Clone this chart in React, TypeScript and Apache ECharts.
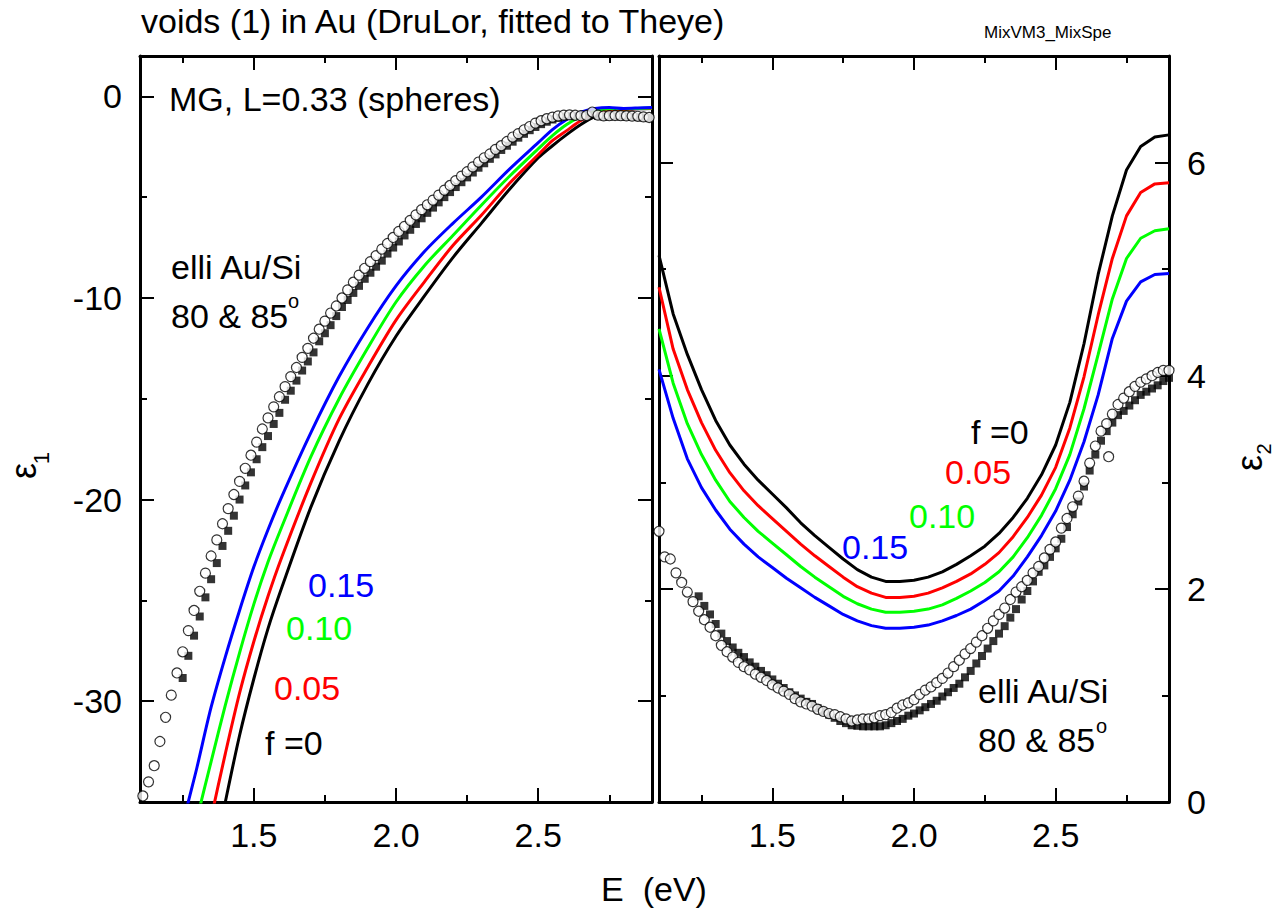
import React, { useEffect, useRef } from "react";
import * as echarts from "echarts";

const FONT = '"Liberation Sans", Arial, Helvetica, sans-serif';
const BLUE = "#0000ff";
const GREEN = "#00ff00";
const RED = "#ff0000";
const BLACK = "#000000";

// photon-energy sampling helper (eV)
const range = (start: number, step: number, n: number) =>
  Array.from({ length: n }, (_, i) => Math.round((start + i * step) * 1000) / 1000);

// ---------- ε1 panel: Maxwell-Garnett curves for void fraction f ----------
const eps1LineE = [1.2, 1.25, 1.3, 1.35, 1.4, 1.45, 1.5, 1.55, 1.6, 1.7, 1.8, 1.9, 2.0, 2.1, 2.2, 2.3, 2.4, 2.5, 2.55, 2.6, 2.65, 2.7, 2.75, 2.8, 2.85, 2.9];
const eps1F015 = [-40.5, -36.2, -33.3, -30.3, -27.8, -25.5, -23.35, -21.5, -19.8, -16.7, -13.9, -11.5, -9.4, -7.7, -6.3, -5.0, -3.6, -2.3, -1.65, -1.15, -0.78, -0.6, -0.55, -0.6, -0.58, -0.55];
const eps1F010 = [null, -39.5, -35.9, -33.0, -30.2, -27.6, -25.2, -23.1, -21.3, -17.9, -15.0, -12.5, -10.2, -8.4, -6.9, -5.4, -3.95, -2.6, -1.95, -1.4, -1.0, -0.72, -0.62, -0.62, -0.6, -0.58];
const eps1F005 = [null, null, -39.2, -35.8, -32.6, -29.6, -27.05, -24.8, -22.8, -19.2, -16.0, -13.45, -11.1, -9.2, -7.4, -5.9, -4.3, -2.9, -2.2, -1.7, -1.2, -0.85, -0.68, -0.64, -0.61, -0.6];
const eps1F000 = [null, null, -42.2, -38.5, -35.0, -31.7, -28.9, -26.4, -24.3, -20.4, -17.1, -14.3, -11.9, -9.9, -8.0, -6.3, -4.6, -3.05, -2.45, -1.9, -1.4, -1.0, -0.75, -0.65, -0.62, -0.6];

// ---------- ε1 panel: ellipsometry Au/Si, 80° (circles) and 85° (squares) ----------
const eps1CircleE = range(1.11, 0.02, 90);
const eps1Circles = [
  -34.7, -34.0, -33.2, -32.0, -30.8, -29.7, -28.6, -27.55, -26.5, -25.5,
  -24.55, -23.65, -22.8, -22.0, -21.2, -20.45, -19.75, -19.1, -18.45, -17.8,
  -17.15, -16.5, -15.95, -15.4, -14.9, -14.4, -13.9, -13.45, -12.95, -12.5,
  -12.0, -11.55, -11.15, -10.75, -10.4, -10.0, -9.6, -9.22, -8.87, -8.53,
  -8.2, -7.9, -7.58, -7.3, -7.0, -6.7, -6.45, -6.15, -5.88, -5.62,
  -5.38, -5.15, -4.9, -4.65, -4.42, -4.18, -3.96, -3.74, -3.5, -3.26,
  -3.05, -2.86, -2.63, -2.45, -2.24, -2.02, -1.85, -1.66, -1.5, -1.33,
  -1.21, -1.11, -1.03, -0.97, -0.93, -0.92, -0.94, -0.96, -0.95, -0.78,
  -0.93, -0.97, -0.96, -0.95, -0.96, -0.97, -0.98, -0.99, -1.02, -1.05,
];
const eps1SquareE = range(1.25, 0.02, 83);
const eps1Squares = [
  -28.85, -27.75, -26.75, -25.8, -24.85, -23.95, -23.15, -22.3, -21.55, -20.8,
  -20.0, -19.3, -18.65, -18.0, -17.4, -16.85, -16.25, -15.7, -15.05, -14.6,
  -14.1, -13.6, -13.15, -12.7, -12.15, -11.75, -11.35, -10.9, -10.45, -10.1,
  -9.75, -9.4, -9.05, -8.75, -8.45, -8.15, -7.8, -7.5, -7.2, -6.9,
  -6.62, -6.33, -6.05, -5.78, -5.52, -5.26, -5.0, -4.75, -4.5, -4.26,
  -4.02, -3.78, -3.54, -3.32, -3.1, -2.88, -2.66, -2.45, -2.25, -2.05,
  -1.86, -1.68, -1.52, -1.38, -1.26, -1.15, -1.07, -1.01, -0.97, -0.96,
  -0.97, -0.97, -0.9, -0.97, -1.0, -1.0, -0.99, -1.0, -1.0, -1.01,
  -1.02, -1.05, -1.08,
];

// ---------- ε2 panel: Maxwell-Garnett curves ----------
const eps2LineE = range(1.1, 0.05, 37);
const eps2F000 = [5.13, 4.58, 4.2, 3.87, 3.58, 3.35, 3.17, 3.02, 2.89, 2.76, 2.62, 2.5, 2.39, 2.28, 2.18, 2.11, 2.07, 2.07, 2.08, 2.11, 2.16, 2.23, 2.31, 2.4, 2.52, 2.67, 2.85, 3.07, 3.35, 3.75, 4.3, 4.95, 5.5, 5.93, 6.15, 6.24, 6.26];
const eps2F005 = [4.83, 4.25, 3.87, 3.56, 3.3, 3.09, 2.92, 2.78, 2.66, 2.54, 2.42, 2.31, 2.21, 2.11, 2.02, 1.96, 1.92, 1.92, 1.93, 1.96, 2.01, 2.07, 2.14, 2.23, 2.34, 2.49, 2.67, 2.88, 3.14, 3.51, 3.99, 4.57, 5.1, 5.5, 5.72, 5.8, 5.81];
const eps2F010 = [4.44, 3.93, 3.55, 3.26, 3.02, 2.82, 2.67, 2.54, 2.43, 2.32, 2.21, 2.11, 2.02, 1.93, 1.86, 1.81, 1.78, 1.78, 1.79, 1.81, 1.85, 1.91, 1.98, 2.06, 2.16, 2.3, 2.48, 2.69, 2.94, 3.26, 3.69, 4.2, 4.72, 5.1, 5.29, 5.36, 5.38];
const eps2F015 = [4.06, 3.6, 3.22, 2.95, 2.74, 2.56, 2.42, 2.3, 2.2, 2.1, 2.01, 1.92, 1.84, 1.76, 1.7, 1.655, 1.63, 1.63, 1.64, 1.66, 1.7, 1.75, 1.81, 1.89, 1.98, 2.12, 2.3, 2.5, 2.73, 3.02, 3.38, 3.82, 4.35, 4.7, 4.88, 4.95, 4.96];

// ---------- ε2 panel: ellipsometry ----------
const eps2CircleE = range(1.1, 0.02, 91);
const eps2Circles = [
  2.54, 2.3, 2.28, 2.15, 2.06, 1.97, 1.88, 1.79, 1.71, 1.64,
  1.56, 1.47, 1.41, 1.36, 1.31, 1.27, 1.24, 1.2, 1.17, 1.14,
  1.1, 1.07, 1.04, 1.01, 0.97, 0.94, 0.92, 0.9, 0.87, 0.85,
  0.83, 0.82, 0.8, 0.78, 0.76, 0.77, 0.78, 0.78, 0.79, 0.81,
  0.82, 0.84, 0.88, 0.91, 0.93, 0.96, 1.01, 1.05, 1.08, 1.12,
  1.16, 1.21, 1.27, 1.33, 1.39, 1.44, 1.5, 1.56, 1.63, 1.7,
  1.76, 1.82, 1.9, 1.97, 2.02, 2.08, 2.15, 2.21, 2.29, 2.37,
  2.44, 2.57, 2.66, 2.77, 2.87, 3.01, 3.18, 3.34, 3.48, 3.55,
  3.64, 3.73, 3.79, 3.85, 3.9, 3.94, 3.97, 4.0, 4.03, 4.05,
  4.05,
];
const eps2CircleExtraE = [2.687];
const eps2CircleExtra = [3.24];
const eps2SquareE = range(1.24, 0.02, 84);
const eps2Squares = [
  1.93, 1.84, 1.76, 1.67, 1.58, 1.51, 1.45, 1.4, 1.36, 1.31,
  1.27, 1.23, 1.19, 1.15, 1.11, 1.07, 1.03, 1.0, 0.97, 0.94,
  0.92, 0.88, 0.85, 0.82, 0.79, 0.76, 0.74, 0.72, 0.715, 0.71,
  0.71, 0.71, 0.71, 0.72, 0.74, 0.76, 0.78, 0.81, 0.83, 0.86,
  0.89, 0.92, 0.95, 0.99, 1.03, 1.07, 1.11, 1.17, 1.23, 1.3,
  1.37, 1.44, 1.51, 1.58, 1.65, 1.73, 1.81, 1.9, 1.98, 2.07,
  2.16, 2.22, 2.3, 2.38, 2.47, 2.58, 2.7, 2.82, 2.96, 3.11,
  3.26, 3.39, 3.48, 3.56, 3.63, 3.67, 3.72, 3.77, 3.82, 3.85,
  3.88, 3.91, 3.95, 3.98,
];

// ---------- axis ticks ----------
const E_MIN = 1.1;
const E_MAX = 2.9;
const eMajor = [1.5, 2.0, 2.5];
const eMinor = [1.25, 1.75, 2.25, 2.75];
const eps1Min = -35;
const eps1Max = 2;
const eps1Major = [-30, -20, -10, 0];
const eps1Minor = [-25, -15, -5];
const eps2Min = 0;
const eps2Max = 7;
const eps2Major = [0, 2, 4, 6];
const eps2Minor = [1, 3, 5];

const pairs = (xs: number[], ys: (number | null)[]) =>
  xs.map((x, i) => [x, ys[i]]).filter((p) => p[1] !== null);

const LABEL_SIZE = 34;

function axis(
  gridIndex: number,
  position: string,
  min: number,
  max: number,
  ticks: number[],
  tickLen: number,
  showLine: boolean,
  labels: boolean,
  fmt?: (v: number) => string,
  margin = 18
) {
  return {
    type: "value",
    gridIndex,
    position,
    min,
    max,
    splitLine: { show: false },
    axisLine: { show: showLine, onZero: false, lineStyle: { color: BLACK, width: 3 } },
    axisTick: {
      show: true,
      inside: true,
      length: tickLen,
      customValues: ticks,
      lineStyle: { color: BLACK, width: 2 },
    },
    axisLabel: labels
      ? {
          show: true,
          customValues: ticks,
          formatter: fmt,
          margin,
          color: BLACK,
          fontFamily: FONT,
          fontSize: LABEL_SIZE,
        }
      : { show: false },
  };
}

const fmtE = (v: number) => v.toFixed(1);
const fmtInt = (v: number) => String(Math.round(v));

const panelLeft = { left: 140, top: 56, width: 512, height: 746 };
const panelRight = { left: 659, top: 56, width: 510, height: 746 };

function text(x: number, y: number, s: string, color: string, size = 34, align = "left") {
  return {
    type: "text",
    x,
    y,
    z: 20,
    style: {
      text: s,
      fill: color,
      fontSize: size,
      fontFamily: FONT,
      textAlign: align,
      textVerticalAlign: "middle",
    },
  };
}

function rotText(x: number, y: number, s: string, size: number) {
  return {
    type: "text",
    x,
    y,
    rotation: Math.PI / 2,
    z: 20,
    style: {
      text: s,
      fill: BLACK,
      fontSize: size,
      fontFamily: FONT,
      textAlign: "center",
      textVerticalAlign: "middle",
    },
  };
}

function lineSeries(
  x: number,
  y: number,
  xs: number[],
  ys: (number | null)[],
  color: string,
  smooth: number | boolean = false
) {
  return {
    type: "line",
    xAxisIndex: x,
    yAxisIndex: y,
    data: pairs(xs, ys),
    symbol: "none",
    smooth,
    clip: true,
    z: 2,
    lineStyle: { color, width: 3 },
    silent: true,
  };
}

function circleSeries(x: number, y: number, xs: number[], ys: number[]) {
  return {
    type: "scatter",
    xAxisIndex: x,
    yAxisIndex: y,
    data: pairs(xs, ys),
    symbol: "circle",
    symbolSize: 10,
    clip: false,
    z: 4,
    itemStyle: { color: "#ffffff", borderColor: BLACK, borderWidth: 1.2 },
    silent: true,
  };
}

function squareSeries(x: number, y: number, xs: number[], ys: number[]) {
  return {
    type: "scatter",
    xAxisIndex: x,
    yAxisIndex: y,
    data: pairs(xs, ys),
    symbol: "rect",
    symbolSize: 8,
    clip: false,
    z: 3,
    itemStyle: { color: BLACK },
    silent: true,
  };
}

const option = {
  animation: false,
  backgroundColor: "#ffffff",
  grid: [
    { ...panelLeft, outerBoundsMode: "none" },
    { ...panelLeft, outerBoundsMode: "none" },
    { ...panelRight, outerBoundsMode: "none" },
    { ...panelRight, outerBoundsMode: "none" },
  ],
  xAxis: [
    axis(0, "bottom", E_MIN, E_MAX, eMajor, 14, true, true, fmtE, 16),
    axis(0, "top", E_MIN, E_MAX, eMajor, 14, true, false),
    axis(1, "bottom", E_MIN, E_MAX, eMinor, 7, false, false),
    axis(1, "top", E_MIN, E_MAX, eMinor, 7, false, false),
    axis(2, "bottom", E_MIN, E_MAX, eMajor, 14, true, true, fmtE, 16),
    axis(2, "top", E_MIN, E_MAX, eMajor, 14, true, false),
    axis(3, "bottom", E_MIN, E_MAX, eMinor, 7, false, false),
    axis(3, "top", E_MIN, E_MAX, eMinor, 7, false, false),
  ],
  yAxis: [
    axis(0, "left", eps1Min, eps1Max, eps1Major, 14, true, true, fmtInt),
    axis(0, "right", eps1Min, eps1Max, eps1Major, 14, true, false),
    axis(1, "left", eps1Min, eps1Max, eps1Minor, 7, false, false),
    axis(1, "right", eps1Min, eps1Max, eps1Minor, 7, false, false),
    axis(2, "left", eps2Min, eps2Max, eps2Major, 14, true, false),
    axis(2, "right", eps2Min, eps2Max, eps2Major, 14, true, true, fmtInt),
    axis(3, "left", eps2Min, eps2Max, eps2Minor, 7, false, false),
    axis(3, "right", eps2Min, eps2Max, eps2Minor, 7, false, false),
  ],
  series: [
    lineSeries(0, 0, eps1LineE, eps1F000, BLACK, 0.3),
    lineSeries(0, 0, eps1LineE, eps1F005, RED, 0.3),
    lineSeries(0, 0, eps1LineE, eps1F010, GREEN, 0.3),
    lineSeries(0, 0, eps1LineE, eps1F015, BLUE, 0.3),
    squareSeries(0, 0, eps1SquareE, eps1Squares),
    circleSeries(0, 0, eps1CircleE, eps1Circles),

    lineSeries(4, 5, eps2LineE, eps2F000, BLACK),
    lineSeries(4, 5, eps2LineE, eps2F005, RED),
    lineSeries(4, 5, eps2LineE, eps2F010, GREEN),
    lineSeries(4, 5, eps2LineE, eps2F015, BLUE),
    squareSeries(4, 5, eps2SquareE, eps2Squares),
    circleSeries(4, 5, eps2CircleE, eps2Circles),
    circleSeries(4, 5, eps2CircleExtraE, eps2CircleExtra),
  ],
  graphic: [
    text(141, 21, "voids (1) in Au (DruLor, fitted to Theye)", BLACK, 34),
    text(984, 32, "MixVM3_MixSpe", BLACK, 17),

    text(169, 99, "MG, L=0.33 (spheres)", BLACK),
    text(171, 267, "elli Au/Si", BLACK),
    text(171, 316, "80 & 85", BLACK),
    text(288, 301, "o", BLACK, 20),
    text(308, 585, "0.15", BLUE),
    text(286, 628, "0.10", GREEN),
    text(274, 688, "0.05", RED),
    text(265, 743, "f =0", BLACK),

    text(971, 432, "f =0", BLACK),
    text(945, 472, "0.05", RED),
    text(909, 516, "0.10", GREEN),
    text(842, 547, "0.15", BLUE),
    text(978, 691, "elli Au/Si", BLACK),
    text(978, 740, "80 & 85", BLACK),
    text(1096, 726, "o", BLACK, 20),

    text(654, 889, "E\u00a0\u00a0(eV)", BLACK, 34, "center"),
    rotText(23, 471, "\u03b5", 36),
    rotText(41, 458, "1", 22),
    rotText(1249, 463, "\u03b5", 36),
    rotText(1264, 449, "2", 20),
  ],
};

export default function App() {
  const ref = useRef<HTMLDivElement>(null);
  useEffect(() => {
    if (!ref.current) return;
    const chart = echarts.init(ref.current, null, { renderer: "svg" });
    chart.setOption(option as any);
    return () => chart.dispose();
  }, []);
  return (
    <div
      ref={ref}
      style={{ position: "absolute", left: 0, top: 0, width: 1278, height: 913, background: "#fff" }}
    />
  );
}
